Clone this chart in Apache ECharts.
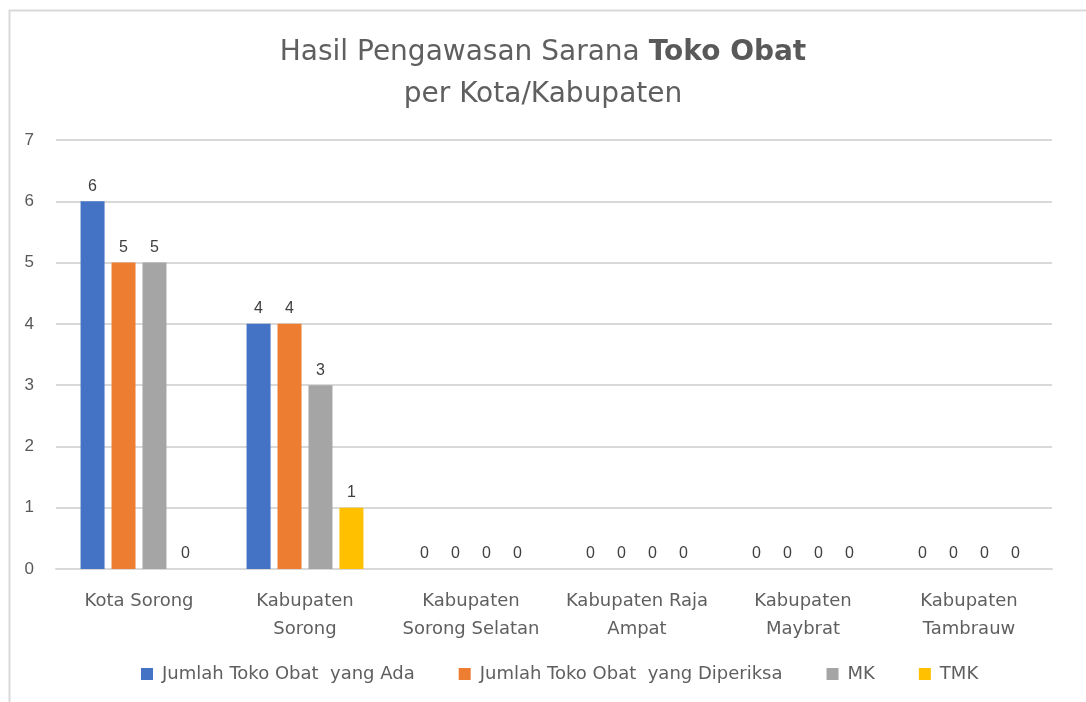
<!DOCTYPE html>
<html>
<head>
<meta charset="utf-8">
<script src="https://cdn.jsdelivr.net/npm/echarts@6/dist/echarts.min.js"></script>
<style>
    html, body { margin: 0; padding: 0; background: #fff; }
    #chart { width: 1086px; height: 702px; }
</style>
</head>
<body>
<div id="chart"></div>
<script>
// kategori kota/kabupaten
var categories = ['Kota Sorong', 'Kabupaten\nSorong', 'Kabupaten\nSorong Selatan', 'Kabupaten Raja\nAmpat', 'Kabupaten\nMaybrat', 'Kabupaten\nTambrauw'];
var seriesNames = ['Jumlah Toko Obat  yang Ada', 'Jumlah Toko Obat  yang Diperiksa', 'MK', 'TMK'];
var jumlahAda = [6, 4, 0, 0, 0, 0];
var jumlahDiperiksa = [5, 4, 0, 0, 0, 0];
var mk = [5, 3, 0, 0, 0, 0];
var tmk = [0, 1, 0, 0, 0, 0];
var yTicks = [0, 1, 2, 3, 4, 5, 6, 7];

var colors = ['#4472C4', '#ED7D31', '#A5A5A5', '#FFC000'];
var font = 'DejaVu Sans';

var chart = echarts.init(document.getElementById('chart'));

function bar(name, data, color) {
    return {
        name: name,
        type: 'bar',
        data: data,
        barWidth: 24,
        barGap: '29%',
        itemStyle: { color: color },
        label: {
            show: true,
            position: 'top',
            distance: 7,
            color: '#404040',
            fontSize: 16,
            fontFamily: 'Liberation Sans'
        }
    };
}

var option = {
    backgroundColor: '#fff',
    textStyle: { fontFamily: font },
    graphic: [{
        type: 'rect',
        shape: { x: 9.5, y: 10.5, width: 1100, height: 720 },
        style: { fill: 'none', stroke: '#d9d9d9', lineWidth: 2 },
        silent: true
    }],
    title: {
        text: 'Hasil Pengawasan Sarana {b|Toko Obat}\nper Kota/Kabupaten',
        left: 'center',
        top: 27,
        textStyle: {
            fontFamily: font,
            fontWeight: 'normal',
            fontSize: 28,
            color: '#5f5f5f',
            lineHeight: 42,
            rich: {
                b: { fontFamily: font, fontWeight: 'bold', fontSize: 28, color: '#595959', lineHeight: 42 }
            }
        }
    },
    legend: {
        bottom: 14,
        left: 136,
        itemWidth: 12,
        itemHeight: 12,
        itemGap: 44,
        icon: 'rect',
        textStyle: { fontSize: 18, color: '#5f5f5f', fontFamily: font, padding: [0, 0, 0, 4] },
        data: seriesNames
    },
    grid: {
        left: 56,
        right: 34,
        top: 140,
        bottom: 133,
        containLabel: false
    },
    xAxis: {
        type: 'category',
        data: categories,
        axisTick: { show: false },
        axisLine: { lineStyle: { color: '#d9d9d9', width: 2 } },
        axisLabel: {
            color: '#5f5f5f',
            fontSize: 18,
            lineHeight: 28,
            margin: 18,
            interval: 0
        }
    },
    yAxis: {
        type: 'value',
        min: yTicks[0],
        max: yTicks[yTicks.length - 1],
        interval: 1,
        axisLine: { show: false },
        axisTick: { show: false },
        splitLine: { lineStyle: { color: '#d9d9d9', width: 2 } },
        axisLabel: {
            color: '#595959',
            fontSize: 17,
            margin: 22,
            fontFamily: 'Liberation Sans'
        }
    },
    series: [
        bar(seriesNames[0], jumlahAda, colors[0]),
        bar(seriesNames[1], jumlahDiperiksa, colors[1]),
        bar(seriesNames[2], mk, colors[2]),
        bar(seriesNames[3], tmk, colors[3])
    ]
};

chart.setOption(option);
</script>
</body>
</html>
